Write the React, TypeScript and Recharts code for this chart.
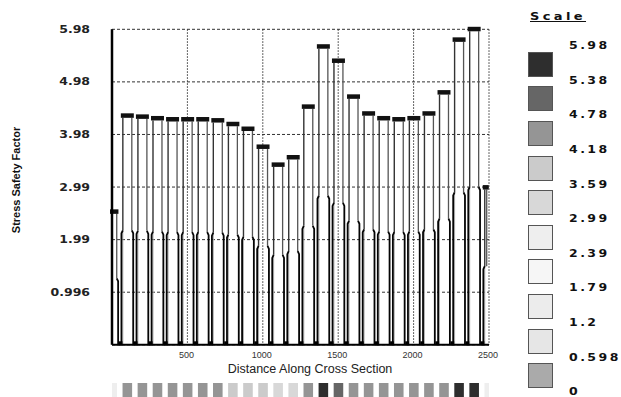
import { Bar, CartesianGrid, ComposedChart, XAxis, YAxis } from "recharts";

// stations along the cross section (every 100 units)
const stations = [
  0, 100, 200, 300, 400, 500, 600, 700, 800, 900, 1000, 1100, 1200,
  1300, 1400, 1500, 1600, 1700, 1800, 1900, 2000, 2100, 2200, 2300, 2400, 2500
];

const safetyFactors = [
  2.52, 4.34, 4.32, 4.29, 4.27, 4.27, 4.27, 4.25, 4.18, 4.09, 3.75, 3.41, 3.55,
  4.51, 5.65, 5.38, 4.7, 4.38, 4.29, 4.27, 4.29, 4.38, 4.78, 5.78, 5.98, 2.98
];

const yTicks = [0.9967, 1.9933, 2.99, 3.9867, 4.9833, 5.98];
const yTickLabels = ["0.996", "1.99", "2.99", "3.98", "4.98", "5.98"];
const xTicks = [500, 1000, 1500, 2000, 2500];

// scale legend, top to bottom
const scaleBreaks = [5.98, 5.38, 4.78, 4.18, 3.59, 2.99, 2.39, 1.79, 1.2, 0.598, 0];
const scaleBreakLabels = ["5.98", "5.38", "4.78", "4.18", "3.59", "2.99", "2.39", "1.79", "1.2", "0.598", "0"];
const scaleShades = [
  "#2e2e2e", "#666666", "#959595", "#cbcbcb", "#d8d8d8",
  "#eeeeee", "#f6f6f6", "#ececec", "#e6e6e6", "#aaaaaa"
];

const chartData = stations.map((station, i) => ({ station, sf: safetyFactors[i] }));

const PLOT_LEFT = 112;
const PLOT_RIGHT = 489;
const STRIP_Y = 383;

function shadeFor(v: number): string {
  for (let k = 0; k < scaleShades.length; k++) {
    if (v > scaleBreaks[k + 1]) return scaleShades[k];
  }
  return scaleShades[scaleShades.length - 1];
}

function PierShape(props: any) {
  const { x, y, width, height, payload } = props;
  if (x == null || y == null) return null;
  const clampL = x < PLOT_LEFT;
  const clampR = x + width > PLOT_RIGHT + 0.5;
  const L = Math.max(x, PLOT_LEFT);
  const R = Math.min(x + width, PLOT_RIGHT);
  const top = y;
  const base = y + height;
  const mid = y + height / 2;
  const up = 2.3;
  const low = 0.9;

  return (
    <g>
      {!clampL && (
        <>
          <path d={`M${L + up},${mid} V${base}`} stroke="#b0b0b0" strokeWidth={1} fill="none" />
          <path d={`M${L + up},${top + 2} V${mid}`} stroke="#333" strokeWidth={1.4} fill="none" />
          <path d={`M${L + up},${mid} L${L + low},${mid + 3} V${base}`} stroke="#050505" strokeWidth={1.8} fill="none" />
          <rect x={L - 1.9} y={base - 3.5} width={3.8} height={4} fill="#000" />
        </>
      )}
      <path d={`M${R - up},${top + 2} V${mid}`} stroke="#555" strokeWidth={1.3} fill="none" />
      {!clampR && (
        <path d={`M${R - up},${mid} L${R - low},${mid + 3} V${base}`} stroke="#050505" strokeWidth={1.8} fill="none" />
      )}
      <rect x={clampL ? L - 2 : L + 0.3} y={top - 2.5} width={R - L - 0.6 + (clampL ? 2 : 0)} height={4.5} fill="#111" />
      <rect
        x={clampL ? L : L + 2}
        y={STRIP_Y}
        width={R - L - (clampL || clampR ? 2 : 4)}
        height={14}
        fill={shadeFor(payload.sf)}
      />
    </g>
  );
}

function YTick(props: any) {
  const { y, payload, index } = props;
  const i = yTicks.indexOf(payload.value);
  return (
    <g transform={`translate(90, ${y + 3.6}) scale(1.3, 1)`}>
      <text x={0} y={0} textAnchor="end" fontFamily="DejaVu Sans" fontWeight="bold" fontSize={9.6} fill="#222">
        {yTickLabels[i >= 0 ? i : index]}
      </text>
    </g>
  );
}

function XTick(props: any) {
  const { x, payload } = props;
  return (
    <text x={x - 1} y={358.3} textAnchor="middle" fontFamily="Liberation Sans" fontSize={9} fill="#333">
      {payload.value}
    </text>
  );
}

function XLabel(props: any) {
  const vb = props.viewBox ?? { x: PLOT_LEFT, y: 344.8, width: 377 };
  return (
    <text x={vb.x + vb.width / 2 + 9.5} y={372.5} textAnchor="middle" fontFamily="Liberation Sans" fontSize={12.5} fill="#222">
      Distance Along Cross Section
    </text>
  );
}

function YLabel() {
  return (
    <text
      x={20}
      y={180}
      transform="rotate(-90, 20, 180)"
      textAnchor="middle"
      fontFamily="Liberation Sans"
      fontWeight="bold"
      fontSize={11}
      fill="#111"
    >
      Stress Safety Factor
    </text>
  );
}

const legendText = {
  position: "absolute" as const,
  fontFamily: "DejaVu Sans",
  fontWeight: "bold" as const,
  color: "#111",
  transform: "scaleX(1.3)",
  transformOrigin: "left center",
  whiteSpace: "nowrap" as const
};

export default function App() {
  return (
    <div style={{ position: "absolute", left: 0, top: 0, width: 621, height: 397, background: "#fff", overflow: "hidden" }}>
      <ComposedChart
        width={621}
        height={397}
        data={chartData}
        margin={{ top: 29.3, right: 132, bottom: 0, left: 0 }}
        barCategoryGap={0}
      >
        <CartesianGrid horizontal vertical={false} stroke="#333" strokeDasharray="3 2" />
        <CartesianGrid horizontal={false} vertical stroke="#333" strokeDasharray="1.5 1.5" />
        <XAxis
          type="number"
          dataKey="station"
          domain={[0, 2500]}
          ticks={xTicks}
          tickLine={false}
          axisLine={{ stroke: "#000", strokeWidth: 2 }}
          height={52.2}
          tick={<XTick />}
          label={<XLabel />}
        />
        <YAxis
          type="number"
          domain={[0, 5.98]}
          ticks={yTicks}
          width={112}
          tickLine={false}
          axisLine={{ stroke: "#000", strokeWidth: 2.5 }}
          tick={<YTick />}
          label={<YLabel />}
        />
        <Bar dataKey="sf" barSize={15.08} shape={PierShape} isAnimationActive={false} />
      </ComposedChart>

      <div
        style={{
          ...legendText,
          left: 530,
          top: 11,
          fontSize: 10,
          lineHeight: "11px",
          letterSpacing: 2.6,
          textDecoration: "underline"
        }}
      >
        Scale
      </div>
      {scaleShades.map((shade, k) => (
        <div
          key={shade + k}
          style={{
            position: "absolute",
            left: 528,
            top: 51.7 + 34.6 * k,
            width: 25,
            height: 25,
            boxSizing: "border-box",
            border: "1px solid #555",
            background: shade
          }}
        />
      ))}
      {scaleBreakLabels.map((label, k) => (
        <div
          key={label}
          style={{
            ...legendText,
            left: 569,
            top: 45.7 + 34.6 * k - 4.5,
            fontSize: 9.6,
            lineHeight: "9px",
            letterSpacing: 1.9
          }}
        >
          {label}
        </div>
      ))}
    </div>
  );
}
